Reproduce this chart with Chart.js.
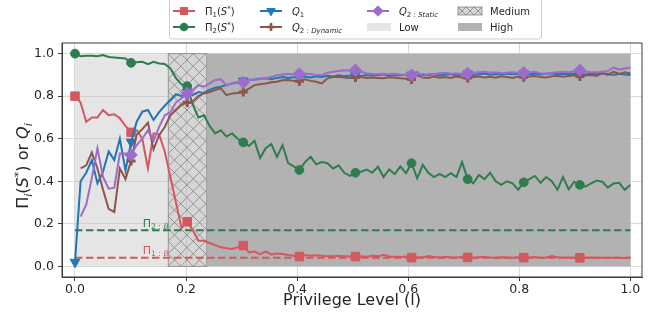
<!DOCTYPE html>
<html>
<head>
<meta charset="utf-8">
<script src="https://cdn.jsdelivr.net/npm/chart.js@4.4.1/dist/chart.umd.min.js"></script>
<style>
  html, body { margin: 0; padding: 0; background: #ffffff; }
  #wrap { width: 662px; height: 322px; }
</style>
</head>
<body>
<div id="wrap"><canvas id="chart" width="662" height="322"></canvas></div>
<script>
// Privilege levels: 100 evenly spaced samples on [0, 1]
const levels = Array.from({ length: 100 }, (_, i) => i / 99);

// Π1(S*)
const pi1 = [
  0.80, 0.77, 0.68, 0.70, 0.70, 0.735, 0.711, 0.715, 0.696, 0.66,
  0.63, 0.64, 0.60, 0.46, 0.625, 0.62, 0.54, 0.42, 0.30, 0.18,
  0.21, 0.17, 0.12, 0.12, 0.11, 0.10, 0.09, 0.085, 0.082, 0.09,
  0.098, 0.066, 0.07, 0.056, 0.07, 0.056, 0.06, 0.058, 0.053, 0.05,
  0.046, 0.053, 0.05, 0.052, 0.05, 0.048, 0.047, 0.05, 0.048, 0.046,
  0.046, 0.047, 0.045, 0.05, 0.047, 0.054, 0.046, 0.045, 0.044, 0.046,
  0.041, 0.043, 0.042, 0.049, 0.044, 0.042, 0.045, 0.043, 0.042, 0.044,
  0.042, 0.041, 0.043, 0.045, 0.042, 0.041, 0.043, 0.042, 0.041, 0.043,
  0.041, 0.042, 0.044, 0.041, 0.042, 0.049, 0.043, 0.041, 0.042, 0.041,
  0.040, 0.041, 0.042, 0.040, 0.041, 0.039, 0.040, 0.041, 0.039, 0.040
];

// Π2(S*)
const pi2 = [
  1.00, 0.988, 0.99, 0.99, 0.988, 0.993, 0.984, 0.982, 0.98, 0.977,
  0.957, 0.96, 0.962, 0.951, 0.962, 0.954, 0.951, 0.93, 0.885, 0.855,
  0.847, 0.76, 0.70, 0.71, 0.66, 0.625, 0.64, 0.61, 0.625, 0.60,
  0.583, 0.566, 0.59, 0.51, 0.555, 0.575, 0.515, 0.57, 0.485, 0.47,
  0.453, 0.49, 0.515, 0.48, 0.49, 0.485, 0.46, 0.475, 0.44, 0.425,
  0.44, 0.445, 0.455, 0.44, 0.468, 0.42, 0.456, 0.434, 0.47, 0.438,
  0.485, 0.414, 0.477, 0.44, 0.42, 0.435, 0.42, 0.438, 0.42, 0.49,
  0.41, 0.39, 0.43, 0.41, 0.44, 0.40, 0.383, 0.40, 0.39, 0.36,
  0.395, 0.41, 0.425, 0.393, 0.42, 0.40, 0.36, 0.42, 0.362, 0.398,
  0.383, 0.375, 0.39, 0.403, 0.398, 0.37, 0.39, 0.393, 0.36, 0.383
];

// Q1
const q1 = [
  0.02, 0.40, 0.44, 0.50, 0.39, 0.445, 0.54, 0.50, 0.60, 0.45,
  0.585, 0.68, 0.727, 0.735, 0.688, 0.725, 0.755, 0.782, 0.81, 0.80,
  0.82, 0.805, 0.82, 0.815, 0.83, 0.84, 0.845, 0.852, 0.86, 0.865,
  0.872, 0.876, 0.878, 0.882, 0.884, 0.88, 0.886, 0.89, 0.885, 0.889,
  0.89, 0.892, 0.888, 0.894, 0.89, 0.896, 0.892, 0.898, 0.894, 0.897,
  0.899, 0.895, 0.90, 0.897, 0.899, 0.902, 0.896, 0.90, 0.898, 0.901,
  0.90, 0.898, 0.902, 0.899, 0.903, 0.897, 0.901, 0.904, 0.899, 0.902,
  0.905, 0.90, 0.903, 0.906, 0.901, 0.904, 0.902, 0.906, 0.903, 0.905,
  0.907, 0.903, 0.906, 0.902, 0.905, 0.908, 0.903, 0.906, 0.904, 0.907,
  0.905, 0.902, 0.906, 0.903, 0.907, 0.904, 0.90, 0.905, 0.902, 0.90
];

// Q2 : Dynamic (undefined at level 0)
const q2Dynamic = [
  null, 0.461, 0.475, 0.535, 0.46, 0.36, 0.27, 0.255, 0.46, 0.41,
  0.495, 0.62, 0.645, 0.675, 0.55, 0.617, 0.655, 0.71, 0.735, 0.76,
  0.77, 0.775, 0.80, 0.813, 0.82, 0.829, 0.837, 0.805, 0.813, 0.815,
  0.82, 0.835, 0.852, 0.856, 0.86, 0.865, 0.868, 0.875, 0.876, 0.872,
  0.87, 0.879, 0.872, 0.868, 0.86, 0.884, 0.89, 0.891, 0.888, 0.886,
  0.888, 0.89, 0.885, 0.888, 0.886, 0.884, 0.889, 0.887, 0.884, 0.882,
  0.879, 0.899, 0.888, 0.885, 0.892, 0.887, 0.89, 0.886, 0.893, 0.888,
  0.885, 0.89, 0.893, 0.888, 0.891, 0.887, 0.894, 0.89, 0.886, 0.892,
  0.889, 0.893, 0.895, 0.89, 0.888, 0.894, 0.896, 0.891, 0.895, 0.898,
  0.893, 0.897, 0.90, 0.895, 0.91, 0.90, 0.915, 0.905, 0.912, 0.907
];

// Q2 : Static (undefined at level 0)
const q2Static = [
  null, 0.234, 0.29, 0.415, 0.555, 0.42, 0.365, 0.37, 0.53, 0.53,
  0.524, 0.57, 0.60, 0.64, 0.59, 0.656, 0.71, 0.725, 0.77, 0.79,
  0.813, 0.83, 0.852, 0.845, 0.86, 0.876, 0.879, 0.852, 0.86, 0.862,
  0.865, 0.876, 0.878, 0.88, 0.884, 0.89, 0.899, 0.902, 0.904, 0.903,
  0.904, 0.905, 0.904, 0.899, 0.898, 0.91, 0.915, 0.918, 0.922, 0.92,
  0.922, 0.915, 0.907, 0.905, 0.904, 0.906, 0.903, 0.905, 0.902, 0.90,
  0.899, 0.915, 0.891, 0.905, 0.903, 0.908, 0.91, 0.905, 0.907, 0.906,
  0.907, 0.91, 0.913, 0.915, 0.91, 0.912, 0.908, 0.91, 0.912, 0.909,
  0.91, 0.913, 0.915, 0.908, 0.905, 0.91, 0.912, 0.915, 0.912, 0.918,
  0.922, 0.915, 0.913, 0.912, 0.915, 0.918, 0.935, 0.925, 0.93, 0.935
];

// Baselines
const baselinePi1 = 0.04;
const baselinePi2 = 0.17;

// Region boundaries along the privilege axis: Low | Medium | High
const regionEdges = [0, 0.168, 0.237, 1.0];
const regionTop = 1.0;

// Axis ticks
const xTicks = [0, 0.2, 0.4, 0.6, 0.8, 1.0];
const xTickLabels = ['0.0', '0.2', '0.4', '0.6', '0.8', '1.0'];
const yTicks = [0, 0.2, 0.4, 0.6, 0.8, 1.0];
const yTickLabels = ['0.0', '0.2', '0.4', '0.6', '0.8', '1.0'];

// Baseline label anchors (level, value)
const labelPi2B = [0.122, 0.187];
const labelPi1B = [0.122, 0.060];

const FONT = '"DejaVu Sans", "Liberation Sans", sans-serif';
const RED = '#d3585f';
const GREEN = '#2e7d4f';
const BLUE = '#1f77b4';
const BROWN = '#8c564b';
const PURPLE = '#9d6bcb';
const INK = '#262626';
const SPINE = '#3c3c3c';

const toPoints = arr => levels.map((x, i) => ({ x: x, y: arr[i] }));
const everyTenth = r => c => (c.dataIndex % 10 === 0 ? r : 0);

// Rich text: [text, kind] with kind r (roman), i (italic), sb (sub), si (italic sub), sp (sup)
function richText(ctx, x, y, parts, size, color, measureOnly) {
  let cx = x;
  for (const [t, k] of parts) {
    let fs = size, dy = 0, style = '';
    if (k === 'i' || k === 'si') style = 'italic ';
    if (k === 'sb' || k === 'si') { fs = size * 0.7; dy = size * 0.22; }
    if (k === 'sp') { fs = size * 0.7; dy = -size * 0.38; }
    ctx.font = style + fs + 'px ' + FONT;
    if (!measureOnly) {
      ctx.fillStyle = color;
      ctx.fillText(t, cx, y + dy);
    }
    cx += ctx.measureText(t).width;
  }
  return cx - x;
}

function drawHatch(ctx, x0, y0, w, h, step, color) {
  ctx.save();
  ctx.beginPath();
  ctx.rect(x0, y0, w, h);
  ctx.clip();
  ctx.strokeStyle = color;
  ctx.lineWidth = 1;
  ctx.beginPath();
  for (let c = x0 - h - step; c < x0 + w + h + step; c += step) {
    ctx.moveTo(c, y0 + h); ctx.lineTo(c + h, y0);
    ctx.moveTo(c, y0); ctx.lineTo(c + h, y0 + h);
  }
  ctx.stroke();
  ctx.restore();
}

const regionsPlugin = {
  id: 'privilegeRegions',
  beforeDatasetsDraw(chart) {
    const { ctx, scales: { x, y } } = chart;
    const yT = y.getPixelForValue(regionTop);
    const yB = y.getPixelForValue(0);
    const px = regionEdges.map(v => x.getPixelForValue(v));
    ctx.save();
    // Low
    ctx.fillStyle = 'rgba(200,200,200,0.47)';
    ctx.fillRect(px[0], yT, px[1] - px[0], yB - yT);
    // Medium (cross-hatched)
    ctx.fillStyle = 'rgba(187,187,187,0.6)';
    ctx.fillRect(px[1], yT, px[2] - px[1], yB - yT);
    drawHatch(ctx, px[1], yT, px[2] - px[1], yB - yT, 12.5, 'rgba(125,125,125,0.75)');
    ctx.strokeStyle = 'rgba(130,130,130,0.8)';
    ctx.lineWidth = 1;
    ctx.strokeRect(px[1], yT, px[2] - px[1], yB - yT);
    // High
    ctx.fillStyle = 'rgba(170,170,170,0.9)';
    ctx.fillRect(px[2], yT, px[3] - px[2], yB - yT);
    ctx.restore();
  }
};

const legendRows = [
  [
    { kind: 'line', color: RED, style: 'rect', r: 5, parts: [['Π', 'r'], ['1', 'sb'], ['(', 'r'], ['S', 'i'], ['*', 'sp'], [')', 'r']] },
    { kind: 'line', color: BLUE, style: 'triangle', r: 4.8, rot: 180, parts: [['Q', 'i'], ['1', 'sb']] },
    { kind: 'line', color: PURPLE, style: 'rectRot', r: 5.2, parts: [['Q', 'i'], ['2 : ', 'sb'], ['Static', 'si']] },
    { kind: 'patch', fill: 'medium', parts: [['Medium', 'r']] }
  ],
  [
    { kind: 'line', color: GREEN, style: 'circle', r: 3.8, parts: [['Π', 'r'], ['2', 'sb'], ['(', 'r'], ['S', 'i'], ['*', 'sp'], [')', 'r']] },
    { kind: 'line', color: BROWN, style: 'cross', r: 4, bw: 2.6, parts: [['Q', 'i'], ['2 : ', 'sb'], ['Dynamic', 'si']] },
    { kind: 'patch', fill: 'low', parts: [['Low', 'r']] },
    { kind: 'patch', fill: 'high', parts: [['High', 'r']] }
  ]
];
const legendCols = [173, 260, 367, 458];
const legendRowY = [11, 27];

const overlayPlugin = {
  id: 'overlay',
  afterDatasetsDraw(chart) {
    const { ctx, scales: { x, y } } = chart;
    ctx.save();
    ctx.textBaseline = 'alphabetic';
    richText(ctx, x.getPixelForValue(labelPi2B[0]), y.getPixelForValue(labelPi2B[1]),
      [['Π', 'r'], ['2 : ', 'sb'], ['B', 'si']], 11, GREEN);
    richText(ctx, x.getPixelForValue(labelPi1B[0]), y.getPixelForValue(labelPi1B[1]),
      [['Π', 'r'], ['1 : ', 'sb'], ['B', 'si']], 11, RED);
    ctx.restore();
  },
  afterDraw(chart) {
    const { ctx, chartArea: a } = chart;
    ctx.save();
    // Frame
    ctx.strokeStyle = SPINE;
    ctx.lineWidth = 1;
    ctx.strokeRect(a.left, a.top, a.right - a.left, a.bottom - a.top);

    // Axis titles
    ctx.textBaseline = 'alphabetic';
    ctx.font = '16px ' + FONT;
    ctx.fillStyle = INK;
    ctx.textAlign = 'center';
    ctx.fillText('Privilege Level (l)', (a.left + a.right) / 2, 305);
    ctx.textAlign = 'left';
    const yParts = [['Π', 'r'], ['i', 'si'], ['(', 'r'], ['S', 'i'], ['*', 'sp'], [') or ', 'r'], ['Q', 'i'], ['i', 'si']];
    const w = richText(ctx, 0, 0, yParts, 16, INK, true);
    ctx.save();
    ctx.translate(28, 166);
    ctx.rotate(-Math.PI / 2);
    richText(ctx, -w / 2, 0, yParts, 16, INK);
    ctx.restore();

    // Legend
    ctx.fillStyle = 'rgba(255,255,255,0.85)';
    ctx.strokeStyle = '#cccccc';
    ctx.lineWidth = 1;
    ctx.beginPath();
    ctx.roundRect(169.5, -6, 372, 45, 3);
    ctx.fill();
    ctx.stroke();
    legendRows.forEach((row, ri) => {
      const yc = legendRowY[ri];
      row.forEach((e, ci) => {
        const x0 = legendCols[ci];
        if (e.kind === 'line') {
          ctx.strokeStyle = e.color;
          ctx.lineWidth = 2;
          ctx.beginPath();
          ctx.moveTo(x0, yc); ctx.lineTo(x0 + 22, yc);
          ctx.stroke();
          ctx.fillStyle = e.color;
          ctx.strokeStyle = e.color;
          ctx.lineWidth = e.bw || 1;
          Chart.helpers.drawPoint(ctx, { pointStyle: e.style, radius: e.r, rotation: e.rot || 0, borderWidth: e.bw || 1 }, x0 + 11, yc);
        } else {
          const px0 = x0, pw = 24, py0 = yc - 4, ph = 8;
          if (e.fill === 'low') {
            ctx.fillStyle = 'rgba(200,200,200,0.47)';
            ctx.fillRect(px0, py0, pw, ph);
          } else if (e.fill === 'medium') {
            ctx.fillStyle = 'rgba(187,187,187,0.6)';
            ctx.fillRect(px0, py0, pw, ph);
            drawHatch(ctx, px0, py0, pw, ph, 8, 'rgba(125,125,125,0.75)');
            ctx.strokeStyle = 'rgba(130,130,130,0.8)';
            ctx.lineWidth = 1;
            ctx.strokeRect(px0, py0, pw, ph);
          } else {
            ctx.fillStyle = 'rgba(170,170,170,0.9)';
            ctx.fillRect(px0, py0, pw, ph);
          }
        }
        richText(ctx, x0 + 32, yc + 3.7, e.parts, 10, INK);
      });
    });
    ctx.restore();
  }
};

function seriesDataset(label, arr, color, style, r, order, extra) {
  return Object.assign({
    label: label,
    data: toPoints(arr),
    borderColor: color,
    backgroundColor: color,
    borderWidth: 2,
    pointStyle: style,
    pointRadius: everyTenth(r),
    pointHoverRadius: everyTenth(r),
    pointBorderColor: color,
    pointBackgroundColor: color,
    pointBorderWidth: 1,
    tension: 0,
    spanGaps: false,
    order: order
  }, extra || {});
}

function baselineDataset(label, value, color, order) {
  return {
    label: label,
    data: [{ x: regionEdges[0], y: value }, { x: regionEdges[3], y: value }],
    borderColor: color,
    borderWidth: 2,
    borderDash: [7.5, 3.5],
    pointRadius: 0,
    order: order
  };
}

new Chart(document.getElementById('chart').getContext('2d'), {
  type: 'line',
  data: {
    datasets: [
      seriesDataset('Q2 : Static', q2Static, PURPLE, 'rectRot', 6.2, 0),
      seriesDataset('Q2 : Dynamic', q2Dynamic, BROWN, 'cross', 4.5, 1, { pointBorderWidth: 3 }),
      seriesDataset('Q1', q1, BLUE, 'triangle', 5.6, 2, { pointRotation: 180 }),
      seriesDataset('Π2(S*)', pi2, GREEN, 'circle', 4.4, 3),
      seriesDataset('Π1(S*)', pi1, RED, 'rect', 6, 4),
      baselineDataset('Π2 : B', baselinePi2, GREEN, 5),
      baselineDataset('Π1 : B', baselinePi1, RED, 6)
    ]
  },
  options: {
    responsive: false,
    animation: false,
    devicePixelRatio: 1,
    events: [],
    layout: { padding: { top: 43, right: 20, left: 0, bottom: 0 } },
    plugins: { legend: { display: false }, tooltip: { enabled: false } },
    scales: {
      x: {
        type: 'linear',
        min: -0.0234,
        max: 1.021,
        afterBuildTicks: s => { s.ticks = xTicks.map(v => ({ value: v })); },
        afterFit: s => { s.height = 45; },
        ticks: {
          callback: (v, i) => xTickLabels[i],
          font: { family: FONT, size: 12.5 },
          color: INK,
          padding: 1,
          maxRotation: 0,
          autoSkip: false
        },
        grid: { color: '#d9d9d9', lineWidth: 1, drawTicks: true, tickLength: 4, tickColor: SPINE },
        border: { display: true, color: SPINE, width: 1 }
      },
      y: {
        type: 'linear',
        min: -0.05,
        max: 1.05,
        afterBuildTicks: s => { s.ticks = yTicks.map(v => ({ value: v })); },
        afterFit: s => { s.width = 62; },
        ticks: {
          callback: (v, i) => yTickLabels[i],
          font: { family: FONT, size: 12.5 },
          color: INK,
          padding: 4,
          autoSkip: false
        },
        grid: { color: '#d9d9d9', lineWidth: 1, drawTicks: true, tickLength: 4, tickColor: SPINE },
        border: { display: true, color: SPINE, width: 1 }
      }
    }
  },
  plugins: [regionsPlugin, overlayPlugin]
});
</script>
</body>
</html>
